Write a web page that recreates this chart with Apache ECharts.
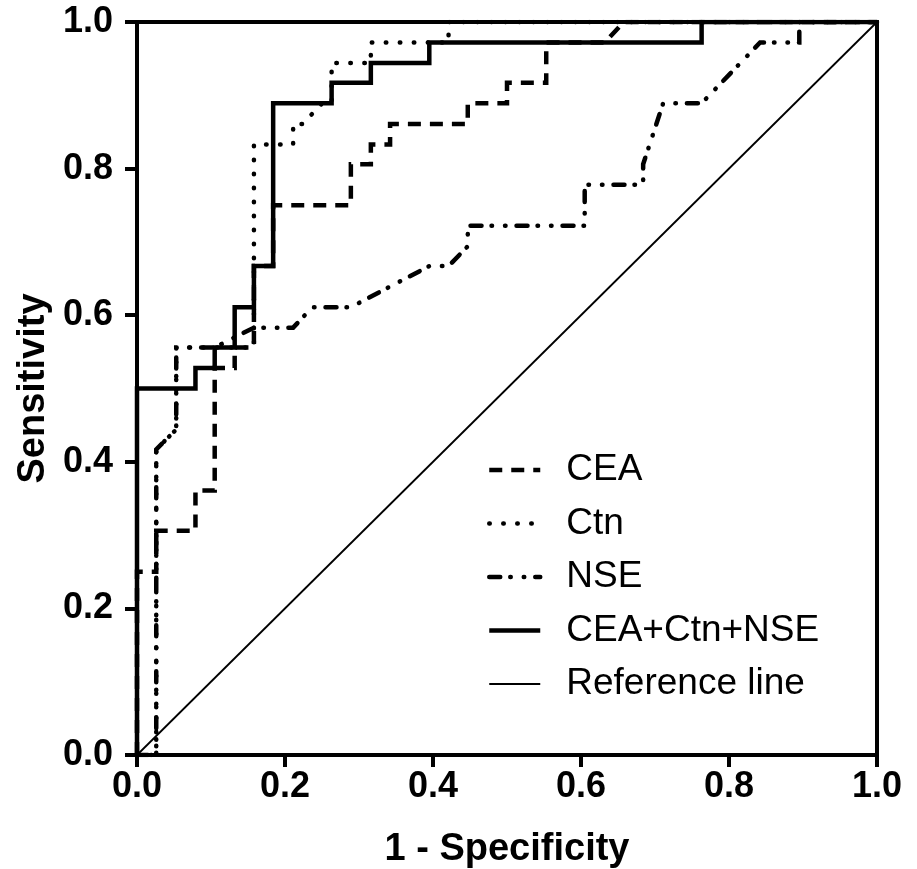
<!DOCTYPE html>
<html><head><meta charset="utf-8">
<script src="https://cdn.jsdelivr.net/npm/echarts@6/dist/echarts.min.js"></script>
<style>html,body{margin:0;padding:0;background:#fff}#c{width:917px;height:869px}</style>
</head><body><div id="c"></div>
<script>
// ROC curves (1 - Specificity, Sensitivity)
const ceaFpr = [0, 0, 0.026, 0.026, 0.079, 0.079, 0.105, 0.105, 0.132, 0.132, 0.158, 0.158, 0.184, 0.184, 0.289, 0.289, 0.316, 0.316, 0.342, 0.342, 0.447, 0.447, 0.5, 0.5, 0.553, 0.553, 0.632, 0.658, 1];
const ceaTpr = [0, 0.25, 0.25, 0.306, 0.306, 0.361, 0.361, 0.528, 0.528, 0.556, 0.556, 0.667, 0.667, 0.75, 0.75, 0.806, 0.806, 0.833, 0.833, 0.861, 0.861, 0.889, 0.889, 0.917, 0.917, 0.972, 0.972, 1, 1];
const ctnFpr = [0, 0.026, 0.026, 0.053, 0.053, 0.158, 0.158, 0.211, 0.211, 0.224, 0.25, 0.263, 0.263, 0.316, 0.316, 0.421, 0.421, 1];
const ctnTpr = [0, 0, 0.417, 0.444, 0.556, 0.556, 0.833, 0.833, 0.861, 0.861, 0.889, 0.889, 0.944, 0.944, 0.972, 0.972, 1, 1];
const nseFpr = [0, 0.026, 0.026, 0.053, 0.053, 0.105, 0.158, 0.211, 0.237, 0.289, 0.395, 0.421, 0.447, 0.447, 0.605, 0.605, 0.684, 0.684, 0.711, 0.763, 0.842, 0.895, 0.895, 1];
const nseTpr = [0, 0, 0.417, 0.444, 0.556, 0.556, 0.583, 0.583, 0.611, 0.611, 0.667, 0.667, 0.694, 0.722, 0.722, 0.778, 0.778, 0.806, 0.889, 0.889, 0.972, 0.972, 1, 1];
const combFpr = [0, 0, 0.079, 0.079, 0.105, 0.105, 0.132, 0.132, 0.158, 0.158, 0.184, 0.184, 0.263, 0.263, 0.316, 0.316, 0.395, 0.395, 0.763, 0.763, 1];
const combTpr = [0, 0.5, 0.5, 0.528, 0.528, 0.556, 0.556, 0.611, 0.611, 0.667, 0.667, 0.889, 0.889, 0.917, 0.917, 0.944, 0.944, 0.972, 0.972, 1, 1];
const refFpr = [0, 1];
const refTpr = [0, 1];
const seriesNames = ['CEA', 'Ctn', 'NSE', 'CEA+Ctn+NSE', 'Reference line'];

const zip = (a, b) => a.map((v, i) => [v, b[i]]);
const FONT = 'Liberation Sans, Arial, sans-serif';

const styles = [
  { width: 4.5, type: [13, 9], cap: 'butt' },
  { width: 4.5, type: [0.5, 13.5], cap: 'round' },
  { width: 4.5, type: [11, 10, 0.5, 13, 0.5, 11], cap: 'round' },
  { width: 4.5, type: 'solid', cap: 'butt' },
  { width: 1.8, type: 'solid', cap: 'butt' }
];
const dataSets = [[ceaFpr, ceaTpr], [ctnFpr, ctnTpr], [nseFpr, nseTpr], [combFpr, combTpr], [refFpr, refTpr]];

const series = seriesNames.map((name, i) => ({
  name, type: 'line', data: zip(dataSets[i][0], dataSets[i][1]), symbol: 'none', smooth: false,
  lineStyle: { color: '#000', width: styles[i].width, type: styles[i].type, cap: styles[i].cap, join: 'miter' },
  itemStyle: { color: '#000' },
  emphasis: { disabled: true }, animation: false
}));

const legendData = seriesNames.map((name, i) => ({
  name,
  itemStyle: { opacity: 0 },
  lineStyle: { color: '#000', width: styles[i].width, type: styles[i].type, cap: styles[i].cap }
}));

const chart = echarts.init(document.getElementById('c'), null, { renderer: 'canvas' });
chart.setOption({
  animation: false,
  backgroundColor: '#fff',
  grid: { left: 137, right: 40, top: 22, bottom: 114, show: true, borderColor: '#000', borderWidth: 4,
    containLabel: false, outerBoundsMode: 'none' },
  xAxis: {
    type: 'value', min: 0, max: 1, interval: 0.2,
    name: '1 - Specificity', nameLocation: 'middle', nameGap: 76,
    nameTextStyle: { fontFamily: FONT, fontWeight: 'bold', fontSize: 38, color: '#000' },
    axisLine: { lineStyle: { color: '#000', width: 4 } },
    axisTick: { show: true, length: 12, lineStyle: { width: 4, color: '#000' } },
    axisLabel: { fontFamily: FONT, fontWeight: 'bold', fontSize: 36, color: '#000', margin: 14,
      formatter: v => v.toFixed(1) },
    splitLine: { show: false }
  },
  yAxis: {
    type: 'value', min: 0, max: 1, interval: 0.2,
    name: 'Sensitivity', nameLocation: 'middle', nameGap: 76, nameRotate: 90,
    nameTextStyle: { fontFamily: FONT, fontWeight: 'bold', fontSize: 38, color: '#000' },
    axisLine: { lineStyle: { color: '#000', width: 4 } },
    axisTick: { show: true, length: 12, lineStyle: { width: 4, color: '#000' } },
    axisLabel: { fontFamily: FONT, fontWeight: 'bold', fontSize: 36, color: '#000', margin: 24,
      formatter: v => v.toFixed(1) },
    splitLine: { show: false }
  },
  legend: {
    orient: 'vertical', left: 487, top: 450, padding: 0, itemWidth: 51, itemHeight: 14, itemGap: 13.5,
    data: legendData,
    textStyle: { fontFamily: FONT, fontSize: 37, color: '#000', lineHeight: 40, padding: [0, 0, 0, 21] },
    selectedMode: false
  },
  series
});
</script></body></html>
